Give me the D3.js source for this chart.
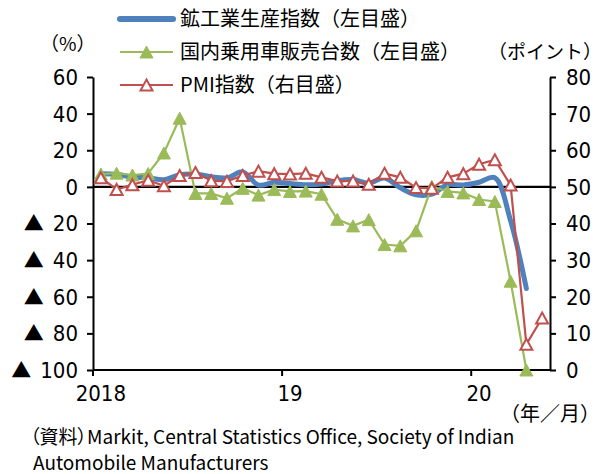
<!DOCTYPE html>
<html><head><meta charset="utf-8">
<script src="https://cdn.jsdelivr.net/npm/d3@7"></script>
<style>
body{margin:0;background:#fff;}
svg{display:block;}
.num{font-family:"Liberation Sans Narrow","Arial Narrow","DejaVu Sans Condensed",sans-serif;font-stretch:condensed;font-size:22px;fill:#000;}
.jp{font-family:"Noto Sans CJK JP",sans-serif;fill:#000;}
.palt{font-feature-settings:"palt";}
</style></head><body>
<svg id="c" width="603" height="474"></svg>
<script>
const months = ["2018-01","2018-02","2018-03","2018-04","2018-05","2018-06","2018-07","2018-08","2018-09","2018-10","2018-11","2018-12",
"2019-01","2019-02","2019-03","2019-04","2019-05","2019-06","2019-07","2019-08","2019-09","2019-10","2019-11","2019-12",
"2020-01","2020-02","2020-03","2020-04","2020-05"];
const yearTickMonths = ["2018-01","2019-01","2020-01"];
const xTickLabels = ["2018","19","20"];
// 鉱工業生産指数 (前年比 %, 左目盛)
const iip = [7.2,6.9,5.3,4.9,3.9,6.6,7.0,5.5,4.9,8.2,1.0,2.5,1.8,1.2,1.5,3.4,4.0,2.0,4.8,-0.5,-4.3,-4.0,1.2,1.0,2.5,5.0,-18.5,-55.5];
// 国内乗用車販売台数 (前年比 %, 左目盛)
const autoSales = [7.0,7.5,6.5,7.3,18.5,37.5,-3.6,-3.6,-6.2,-0.8,-4.5,-1.5,-2.5,-2.3,-4.0,-17.7,-21.3,-17.9,-31.5,-32.2,-24.0,0.3,-2.5,-3.3,-6.9,-8.0,-51.5,-100];
// PMI指数 (ポイント, 右目盛)
const pmi = [52.5,49.3,50.6,51.8,50.3,53.1,53.9,51.7,51.5,53.1,54.3,53.6,53.5,53.7,52.6,51.6,51.6,50.7,53.7,52.6,49.8,49.6,52.6,53.6,56.2,57.4,50.5,7.0,14.2];
const leftTicks = [60,40,20,0,-20,-40,-60,-80,-100];
const rightTicks = [80,70,60,50,40,30,20,10,0];
const seriesNames = ["鉱工業生産指数（左目盛）","国内乗用車販売台数（左目盛）","PMI指数（右目盛）"];
const colors = ["#4F81BD","#9BBB59","#C0504D"];

const svg = d3.select("#c");
const L = 93, R = 550, T = 77, B = 370;
const x = d3.scaleBand().domain(months).range([L,R]).padding(0);
const bw = x.bandwidth();
const cx = m => x(m) + bw/2;
const yL = d3.scaleLinear().domain([-100,60]).range([B,T]);
const yR = d3.scaleLinear().domain([0,80]).range([B,T]);

// Left axis
const gL = svg.append("g").attr("transform",`translate(${L},0)`)
  .call(d3.axisLeft(yL).tickValues(leftTicks).tickSizeInner(6).tickSizeOuter(0).tickFormat(""));
gL.select(".domain").attr("stroke","#000").attr("stroke-width",2);
gL.selectAll(".tick line").attr("stroke","#000").attr("stroke-width",2);
leftTicks.forEach(v=>{
  const t = svg.append("text").attr("class","num").attr("text-anchor","end")
    .attr("x",78).attr("y",yL(v)).attr("dy","0.36em");
  if(v<0){
    t.append("tspan").attr("font-family","Noto Sans CJK JP").attr("font-size","20px").text("▲");
    t.append("tspan").attr("dx",9).text(Math.abs(v));
  } else t.text(v);
});

// Right axis
const gR = svg.append("g").attr("transform",`translate(${R},0)`)
  .call(d3.axisRight(yR).tickValues(rightTicks).tickSizeInner(6).tickSizeOuter(0).tickFormat(""));
gR.select(".domain").attr("stroke","#000").attr("stroke-width",2);
gR.selectAll(".tick line").attr("stroke","#000").attr("stroke-width",2);
rightTicks.forEach(v=>{
  svg.append("text").attr("class","num").attr("x",566).attr("y",yR(v)).attr("dy","0.36em").text(v);
});

// Bottom axis
svg.append("line").attr("x1",L).attr("x2",R).attr("y1",B).attr("y2",B).attr("stroke","#000").attr("stroke-width",2);
yearTickMonths.forEach((m,i)=>{
  svg.append("line").attr("x1",x(m)).attr("x2",x(m)).attr("y1",B).attr("y2",B+6).attr("stroke","#000").attr("stroke-width",2);
  svg.append("text").attr("class","num").attr("text-anchor","middle").attr("x",cx(m)).attr("y",401).text(xTickLabels[i]);
});

// zero line
svg.append("line").attr("x1",L).attr("x2",R).attr("y1",yL(0)).attr("y2",yL(0)).attr("stroke","#000").attr("stroke-width",2.2);

const tri = (w,h)=>`M0,${-h/2}L${w/2},${h/2}L${-w/2},${h/2}Z`;

// Blue series (smoothed)
const blueData = iip.map((v,i)=>[months[i],v]);
svg.append("path").datum(blueData)
  .attr("d",d3.line().x(d=>cx(d[0])).y(d=>yL(d[1])).curve(d3.curveCatmullRom.alpha(0.5)))
  .attr("fill","none").attr("stroke",colors[0]).attr("stroke-width",5).attr("stroke-linecap","round").attr("stroke-linejoin","round");

// Green series
const greenData = autoSales.map((v,i)=>[months[i],v]);
svg.append("path").datum(greenData)
  .attr("d",d3.line().x(d=>cx(d[0])).y(d=>yL(d[1])))
  .attr("fill","none").attr("stroke",colors[1]).attr("stroke-width",2.2);
svg.append("g").selectAll("path").data(greenData).join("path")
  .attr("transform",d=>`translate(${cx(d[0])},${yL(d[1])})`)
  .attr("d",tri(13,12)).attr("fill",colors[1]).attr("stroke",colors[1]).attr("stroke-width",1);

// Red series
const redData = pmi.map((v,i)=>[months[i],v]);
svg.append("path").datum(redData)
  .attr("d",d3.line().x(d=>cx(d[0])).y(d=>yR(d[1])))
  .attr("fill","none").attr("stroke",colors[2]).attr("stroke-width",2.2);
svg.append("g").selectAll("path").data(redData).join("path")
  .attr("transform",d=>`translate(${cx(d[0])},${yR(d[1])})`)
  .attr("d",tri(12,11)).attr("fill","#fff").attr("stroke",colors[2]).attr("stroke-width",2);

// Legend
const legY = [19,52,85];
const lx1 = 120, lx2 = 173, lmx = (lx1+lx2)/2;
svg.append("line").attr("x1",lx1).attr("x2",lx2).attr("y1",legY[0]).attr("y2",legY[0]).attr("stroke",colors[0]).attr("stroke-width",6).attr("stroke-linecap","round");
svg.append("line").attr("x1",lx1).attr("x2",lx2).attr("y1",legY[1]).attr("y2",legY[1]).attr("stroke",colors[1]).attr("stroke-width",2.2);
svg.append("path").attr("transform",`translate(${lmx},${legY[1]})`).attr("d",tri(13,12)).attr("fill",colors[1]).attr("stroke",colors[1]);
svg.append("line").attr("x1",lx1).attr("x2",lx2).attr("y1",legY[2]).attr("y2",legY[2]).attr("stroke",colors[2]).attr("stroke-width",2.2);
svg.append("path").attr("transform",`translate(${lmx},${legY[2]})`).attr("d",tri(12,11)).attr("fill","#fff").attr("stroke",colors[2]).attr("stroke-width",2);
seriesNames.forEach((s,i)=>{
  svg.append("text").attr("class","jp").attr("x",180).attr("y",legY[i]).attr("dy","0.36em").attr("font-size","20px").text(s);
});

// Unit labels
svg.append("text").attr("class","jp").attr("x",40).attr("y",44).attr("dy","0.36em").attr("font-size","19px").text("（%）");
svg.append("text").attr("class","jp").attr("x",488).attr("y",52).attr("dy","0.36em").attr("font-size","19px").text("（ポイント）");
svg.append("text").attr("class","jp").attr("x",500).attr("y",414).attr("dy","0.36em").attr("font-size","20px").text("（年／月）");

// Source
svg.append("text").attr("class","jp palt").attr("x",30).attr("y",437).attr("dy","0.36em").attr("font-size","19px").text("（資料）Markit, Central Statistics Office, Society of Indian");
svg.append("text").attr("class","jp").attr("x",33).attr("y",463).attr("dy","0.36em").attr("font-size","19px").text("Automobile Manufacturers");
</script>
</body></html>
